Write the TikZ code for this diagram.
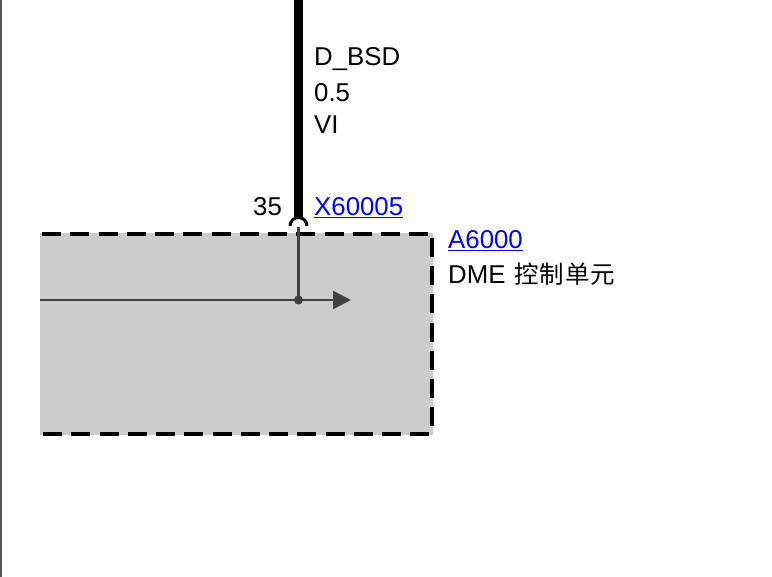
\documentclass[tikz,border=0pt]{standalone}
\usepackage{fontspec}
\setmainfont{Liberation Sans}
\newfontfamily\cjkfont{Noto Sans CJK SC}[LetterSpace=3.0]
\usepackage{xcolor}
\usetikzlibrary{arrows.meta}
\definecolor{blockgray}{HTML}{CCCCCC}
\definecolor{signalgray}{HTML}{404040}
\definecolor{framegray}{HTML}{555555}
\tikzset{
  label text/.style={anchor=base west,font=\fontsize{25.8}{30}\selectfont},
  link text/.style={label text,text=blue},
  blockedge/.style={black,line width=4.7pt,dash pattern=on 19pt off 9.25pt},
  signal/.style={signalgray,line width=2.4pt},
}
\begin{document}
\begin{tikzpicture}[x=1pt,y=-1pt]
\tikzstyle{every node}+=[inner sep=0pt]
\useasboundingbox (0,0) rectangle (772,577);
\fill [framegray] (0,0) rectangle (2,577);
% control unit
\node (block) [fill=blockgray,minimum width=393pt,minimum height=202pt,anchor=north west] at (40,233) {};
\coordinate (tl) at (42,234);
\coordinate (tr) at (432,234);
\coordinate (rt) at (432,238);
\coordinate (br) at (432,434);
\coordinate (bl) at (43,434);
\draw [blockedge] (tl) -- (tr);
\draw [blockedge] (rt) -- (br);
\draw [blockedge] (bl) -- (br);
% wire and pin
\coordinate (wiretop) at (298.5,0);
\coordinate (wireend) at (298.5,219);
\coordinate (pin) at (298.5,227);
\coordinate (junction) at (298.5,300);
\coordinate (sigleft) at (40,300);
\coordinate (sigright) at (351,300);
\draw [black,line width=9pt] (wiretop) -- (wireend);
\draw [black,line width=3pt] (290,226) arc (180:360:8.5);
\draw [signal] (pin) -- (junction);
\draw [signal,-{Triangle[length=18pt,width=18pt]}] (sigleft) -- (sigright);
\fill [signalgray] (junction) circle (4.5);
% labels
\node (wirename) [label text] at (314,66) {D\symbol{95}BSD};
\node (wiresize) [label text] at (314,102) {0.5};
\node (wirecolor) [label text] at (314,134) {VI};
\node (pinno) [label text] at (253,216) {35};
\node (connector) [link text] at (314,216) {\underline{X60005}};
\node (blockid) [link text] at (448,249) {\underline{A6000}};
\node (blockname) [label text] at (448,284) {DME\hspace{2pt} {\cjkfont\fontsize{24.5}{30}\selectfont 控制单元}};
\end{tikzpicture}
\end{document}
